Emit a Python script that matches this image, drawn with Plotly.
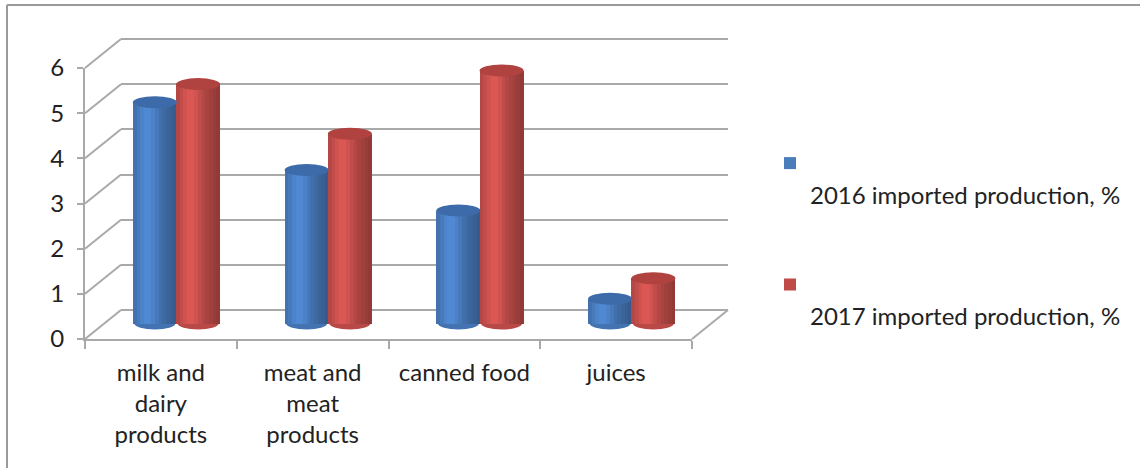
import math
import plotly.graph_objects as go

# ---------------- data ----------------
categories = ["milk and<br>dairy<br>products", "meat and<br>meat<br>products", "canned food", "juices"]
values_2016 = [4.9, 3.4, 2.5, 0.55]
values_2017 = [5.3, 4.2, 5.6, 1.0]
series_names = ["<br>2016 imported production, %", "<br>2017 imported production, %"]
y_ticks = [0, 1, 2, 3, 4, 5, 6]

# ---------------- geometry (pixels) ----------------
W, H = 1140, 468
FONT = "Lato"
FS = 24
SCALE = 271 / 6.0           # pixels per unit
FRONT_X0, FRONT_X1, FRONT_Y0 = 85, 692, 339
MID_DX, MID_DY = 16, -15.5
BACK_DX, BACK_DY = 36, -29
GRID = "#a9a9a9"


def px(x):
    return x / W


def py(y):
    return 1 - y / H


def ydomain(zero_pix, lo, hi):
    return [py(zero_pix - lo * SCALE), py(zero_pix - hi * SCALE)]


fig = go.Figure()

# back wall (subplot x/y)
fig.add_trace(go.Scatter(x=[], y=[], xaxis="x", yaxis="y", showlegend=False, hoverinfo="skip"))

# ---------------- cylinders (subplot x2/y2) ----------------
series = [
    (values_2016, (74, 126, 193), "#3d6aa8", "#4a7ebb", -0.29, "a"),
    (values_2017, (200, 80, 77), "#b0423f", "#be4b48", -0.005, "b"),
]
BW = 0.29
N = 12


def shade(t):
    return 0.84 + 0.26 * math.exp(-((t - 0.33) / 0.25) ** 2) - 0.12 * max(0.0, (t - 0.55) / 0.45) ** 1.5


def col(rgb, f):
    return "rgb(%d,%d,%d)" % tuple(min(255, int(c * f)) for c in rgb)


E = 6 / SCALE  # ellipse half height in data units
shapes = []
for (vals, rgb, topc, legc, off, grp), name in zip(series, series_names):
    fig.add_trace(go.Bar(x=categories, y=vals, xaxis="x2", yaxis="y2", name=name,
                         legendgroup=grp, marker=dict(color=legc, line_width=0),
                         offset=off, width=BW, hoverinfo="skip"))
    for k in range(N):
        t = (k + 0.5) / N
        w = BW / N + (0.006 if k < N - 1 else 0)
        fig.add_trace(go.Bar(x=categories, y=vals, xaxis="x2", yaxis="y2", showlegend=False,
                             marker=dict(color=col(rgb, shade(t)), line_width=0),
                             offset=off + k * BW / N, width=w, hoverinfo="skip"))
    for i, v in enumerate(vals):
        shapes.append(dict(type="circle", xref="x2", yref="y2", layer="above",
                           x0=i + off, x1=i + off + BW, y0=v - E, y1=v + E,
                           fillcolor=topc, line=dict(width=0)))
        shapes.append(dict(type="circle", xref="x2", yref="y2", layer="between",
                           x0=i + off + 0.01, x1=i + off + BW - 0.01, y0=-E, y1=E,
                           fillcolor=col(rgb, 0.92), line=dict(width=0)))

# ---------------- front axes (subplot x3/y3) ----------------
fig.add_trace(go.Scatter(x=categories, y=values_2016, xaxis="x3", yaxis="y3", mode="markers",
                         marker=dict(opacity=0), showlegend=False, hoverinfo="skip"))

# left-wall diagonals and floor edge
for v in y_ticks:
    yf = FRONT_Y0 - v * SCALE
    shapes.append(dict(type="line", xref="paper", yref="paper", layer="below",
                       x0=px(FRONT_X0), y0=py(yf), x1=px(FRONT_X0 + BACK_DX), y1=py(yf + BACK_DY),
                       line=dict(color=GRID, width=2)))
shapes.append(dict(type="line", xref="paper", yref="paper", layer="below",
                   x0=px(FRONT_X1), y0=py(FRONT_Y0), x1=px(FRONT_X1 + BACK_DX), y1=py(FRONT_Y0 + BACK_DY),
                   line=dict(color=GRID, width=2)))
# outer chart border (top and left edges visible)
shapes.append(dict(type="line", xref="paper", yref="paper", layer="below",
                   x0=px(7), y0=py(5), x1=1, y1=py(5), line=dict(color="#9a9a9a", width=2)))
shapes.append(dict(type="line", xref="paper", yref="paper", layer="below",
                   x0=px(7), y0=py(5), x1=px(7), y1=0, line=dict(color="#9a9a9a", width=2)))

bx0, bx1 = FRONT_X0 + BACK_DX, FRONT_X1 + BACK_DX
mx0, mx1 = FRONT_X0 + MID_DX, FRONT_X1 + MID_DX

fig.update_layout(
    width=W, height=H, autosize=False,
    margin=dict(l=0, r=0, t=0, b=0, autoexpand=False),
    paper_bgcolor="white", plot_bgcolor="rgba(0,0,0,0)",
    barmode="overlay", bargap=0,
    font=dict(family=FONT, size=FS, color="#222222"),
    shapes=shapes,
    showlegend=True,
    legend=dict(x=px(770), y=py(141), xanchor="left", yanchor="top", valign="top",
                tracegroupgap=56, bgcolor="rgba(0,0,0,0)",
                font=dict(family=FONT, size=FS, color="#222222")),
    # back wall
    xaxis=dict(domain=[px(bx0), px(bx1)], range=[-0.5, 3.5], visible=False, anchor="y"),
    yaxis=dict(domain=ydomain(FRONT_Y0 + BACK_DY, -0.05, 6.05), range=[-0.05, 6.05], anchor="x",
               tickvals=y_ticks, showticklabels=False, ticks="", showline=False, zeroline=False,
               showgrid=True, gridcolor=GRID, gridwidth=2),
    # cylinders
    xaxis2=dict(domain=[px(mx0), px(mx1)], range=[-0.5, 3.5], visible=False, anchor="y2",
                type="category"),
    yaxis2=dict(domain=ydomain(FRONT_Y0 + MID_DY, -0.5, 6.3), range=[-0.5, 6.3], visible=False,
                anchor="x2"),
    # front axes
    xaxis3=dict(domain=[px(FRONT_X0), px(FRONT_X1)], range=[-0.5, 3.5], anchor="y3",
                type="category", tickson="boundaries", ticks="outside", ticklen=8, tickwidth=2,
                tickcolor=GRID, showline=True, linecolor=GRID, linewidth=2, showgrid=False,
                ticklabelstandoff=11,
                tickfont=dict(family=FONT, size=FS, color="#222222")),
    yaxis3=dict(domain=ydomain(FRONT_Y0, 0, 6), range=[0, 6], anchor="x3",
                tickvals=y_ticks, ticks="outside", ticklen=6, tickwidth=2, tickcolor=GRID,
                showline=True, linecolor=GRID, linewidth=2, showgrid=False, zeroline=False,
                ticklabelstandoff=8,
                tickfont=dict(family=FONT, size=FS, color="#222222")),
)

fig.write_html("out.html")
